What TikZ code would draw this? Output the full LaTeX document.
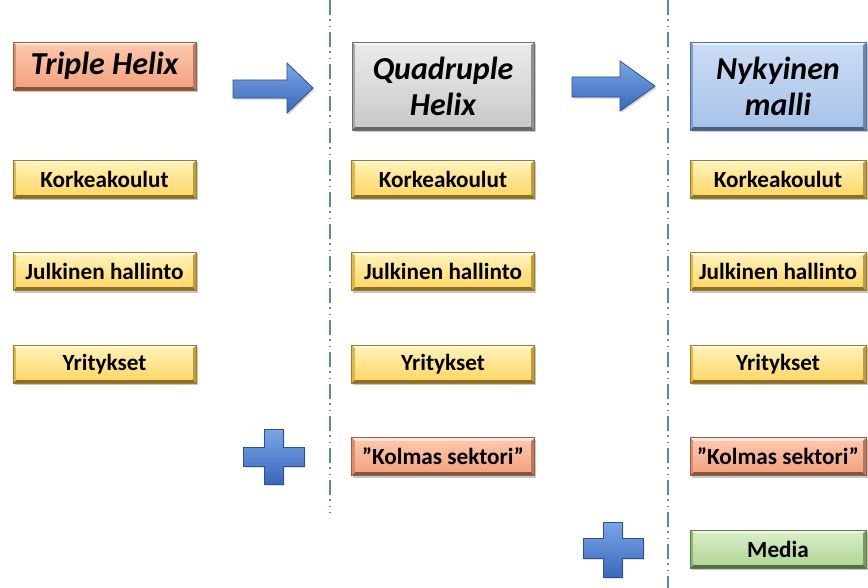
\documentclass[tikz,border=0pt]{standalone}
\usepackage{fontspec}
\setmainfont{Carlito}
\usetikzlibrary{shadows}

% face colours (top / bottom of the gradient), rim and outline
\definecolor{salTop}{HTML}{FCC6AA}
\definecolor{salBot}{HTML}{F4A381}
\definecolor{salRim}{HTML}{DC8E6C}
\definecolor{salLine}{HTML}{9C5F45}
\definecolor{yelTop}{HTML}{FFF0B4}
\definecolor{yelBot}{HTML}{FFD868}
\definecolor{yelRim}{HTML}{E2B845}
\definecolor{yelLine}{HTML}{9E7E28}
\definecolor{gryTop}{HTML}{EAEAEA}
\definecolor{gryBot}{HTML}{C9C9C9}
\definecolor{gryRim}{HTML}{A8A8A8}
\definecolor{gryLine}{HTML}{707070}
\definecolor{bluTop}{HTML}{CBDCF3}
\definecolor{bluBot}{HTML}{A8C3EA}
\definecolor{bluRim}{HTML}{7F9FD0}
\definecolor{bluLine}{HTML}{52709F}
\definecolor{grnTop}{HTML}{D7ECC5}
\definecolor{grnBot}{HTML}{B2D797}
\definecolor{grnRim}{HTML}{8CB86E}
\definecolor{grnLine}{HTML}{5C7F45}
\definecolor{shapeTop}{HTML}{7AA5E6}
\definecolor{shapeBot}{HTML}{3A68BA}
\definecolor{shapeLine}{HTML}{2C5092}
\definecolor{sepLine}{HTML}{5E84B8}

\begin{document}
\begin{tikzpicture}[x=0.75pt,y=-0.75pt,
  bevelbox/.style n args={4}{%
    rectangle, inner sep=0pt, text=black, align=center,
    draw=#4, line width=0.5pt,
    drop shadow={shadow xshift=1.2pt, shadow yshift=-1.5pt, opacity=0.22, fill=black},
    path picture={
      \path (path picture bounding box.south west) coordinate (bvA)
            (path picture bounding box.north east) coordinate (bvC);
      \path (bvA -| bvC) coordinate (bvB) (bvA |- bvC) coordinate (bvD);
      \path ([xshift=2.8pt,yshift=2.8pt]bvA) coordinate (bva)
            ([xshift=-2.8pt,yshift=2.8pt]bvB) coordinate (bvb)
            ([xshift=-2.8pt,yshift=-2.8pt]bvC) coordinate (bvc)
            ([xshift=2.8pt,yshift=-2.8pt]bvD) coordinate (bvd);
      \fill[#3!60!black] (bvA) -- (bvB) -- (bvb) -- (bva) -- cycle;
      \fill[#3!85!black] (bvB) -- (bvC) -- (bvc) -- (bvb) -- cycle;
      \fill[#1!45!white] (bvC) -- (bvD) -- (bvd) -- (bvc) -- cycle;
      \fill[#3] (bvD) -- (bvA) -- (bva) -- (bvd) -- cycle;
      \shade[top color=#1, bottom color=#2] (bva) rectangle (bvc);
    }},
  titlebox/.style={font=\fontsize{24}{27}\selectfont\bfseries\itshape},
  itembox/.style={font=\fontsize{17.4}{20}\selectfont\bfseries,
    minimum height=28.5pt},
  wide/.style={minimum width=137.25pt},
  narrow/.style={minimum width=132pt},
  salmon/.style={bevelbox={salTop}{salBot}{salRim}{salLine}},
  yellow/.style={bevelbox={yelTop}{yelBot}{yelRim}{yelLine}},
  grey/.style={bevelbox={gryTop}{gryBot}{gryRim}{gryLine}},
  lightblue/.style={bevelbox={bluTop}{bluBot}{bluRim}{bluLine}},
  green/.style={bevelbox={grnTop}{grnBot}{grnRim}{grnLine}},
  blockshape/.style={top color=shapeTop, bottom color=shapeBot,
    draw=shapeLine, line width=0.6pt, line join=miter,
    drop shadow={shadow xshift=1pt, shadow yshift=-1.3pt, opacity=0.2, fill=black}},
  separator/.style={draw=sepLine, line width=1.1pt,
    dash pattern=on 11pt off 3.6pt on 1pt off 3.8pt on 1pt off 3.6pt}
]
\useasboundingbox (0,0) rectangle (868,588);

% column separators
\coordinate (sepAtop) at (330,0);
\coordinate (sepAbot) at (330,513);
\coordinate (sepBtop) at (668,0);
\coordinate (sepBbot) at (668,588);
\draw[separator] (sepAtop) -- (sepAbot);
\draw[separator] (sepBtop) -- (sepBbot);

% first column: Triple Helix
\node[salmon, titlebox, wide, minimum height=36pt] (th) at (104.5,66) {Triple Helix};
\node[yellow, itembox, wide] (k1) at (104.5,179) {Korkeakoulut};
\node[yellow, itembox, wide] (j1) at (104.5,271.5) {Julkinen hallinto};
\node[yellow, itembox, wide] (y1) at (104.5,364) {Yritykset};

% second column: Quadruple Helix
\node[grey, titlebox, minimum width=136.5pt, minimum height=66pt] (qh) at (443,86) {Quadruple\\Helix};
\node[yellow, itembox, wide] (k2) at (443,179) {Korkeakoulut};
\node[yellow, itembox, wide] (j2) at (443,271.5) {Julkinen hallinto};
\node[yellow, itembox, wide] (y2) at (443,364) {Yritykset};
\node[salmon, itembox, wide] (s2) at (443,456.5) {”Kolmas sektori”};

% third column: present model
\node[lightblue, titlebox, narrow, minimum height=66pt] (nm) at (778,86) {Nykyinen\\malli};
\node[yellow, itembox, narrow] (k3) at (778,179) {Korkeakoulut};
\node[yellow, itembox, narrow] (j3) at (778,271.5) {Julkinen hallinto};
\node[yellow, itembox, narrow] (y3) at (778,364) {Yritykset};
\node[salmon, itembox, narrow] (s3) at (778,456.5) {”Kolmas sektori”};
\node[green, itembox, narrow] (m3) at (778,549) {Media};

% block arrows between the columns
\path[blockshape] (233,80) -- (287,80) -- (287,63) -- (313,88) -- (287,113)
  -- (287,98) -- (233,98) -- cycle;
\path[blockshape] (572,77) -- (620,77) -- (620,61) -- (655,86) -- (620,111)
  -- (620,97) -- (572,97) -- cycle;

% plus signs
\path[blockshape] (264,429) -- (283,429) -- (283,447) -- (304,447) -- (304,466)
  -- (283,466) -- (283,484) -- (264,484) -- (264,466) -- (243,466)
  -- (243,447) -- (264,447) -- cycle;
\path[blockshape] (603,522) -- (622,522) -- (622,538) -- (643,538) -- (643,558)
  -- (622,558) -- (622,577) -- (603,577) -- (603,558) -- (583,558)
  -- (583,538) -- (603,538) -- cycle;
\end{tikzpicture}
\end{document}
